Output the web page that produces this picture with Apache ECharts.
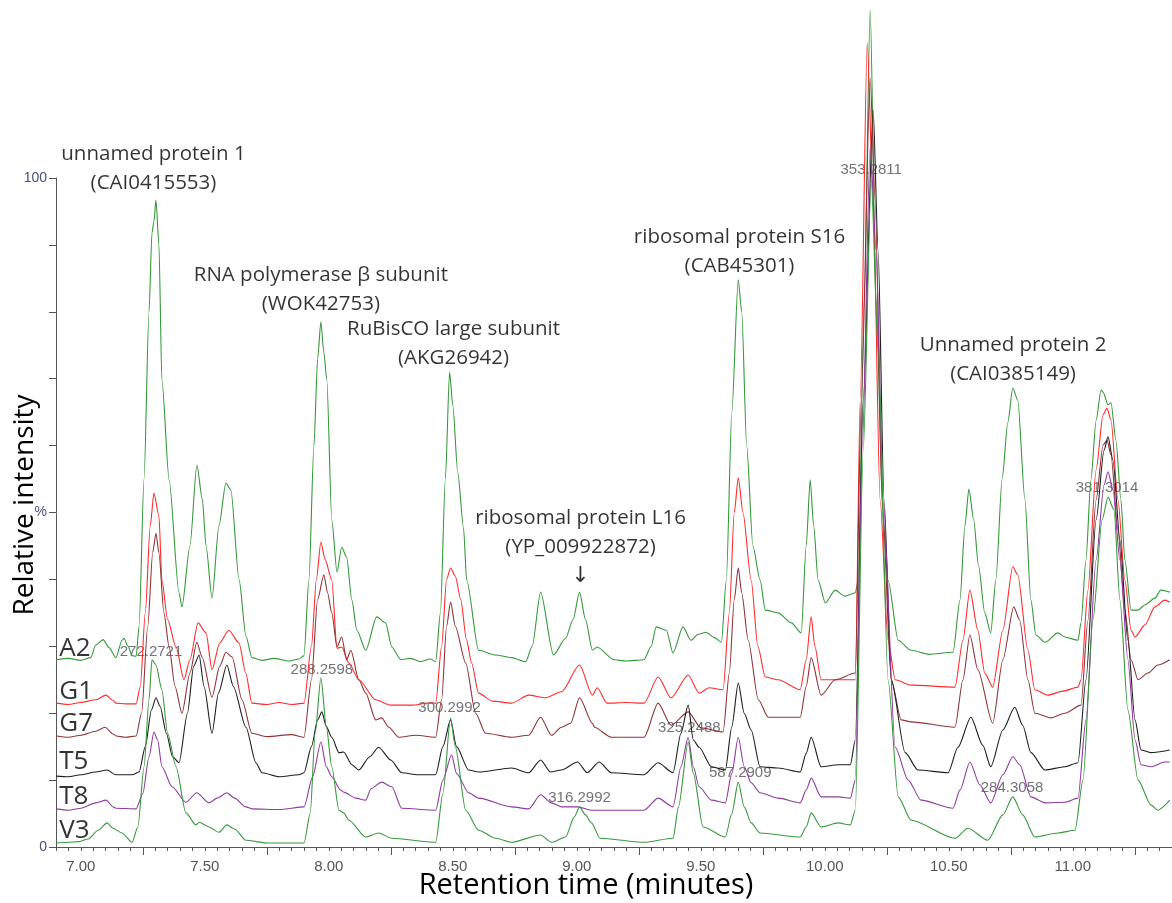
<!DOCTYPE html>
<html><head><meta charset="utf-8">
<script src="https://cdn.jsdelivr.net/npm/echarts@6/dist/echarts.min.js"></script>
<style>html,body{margin:0;padding:0;background:#fff}#c{width:1172px;height:903px}</style>
</head><body><div id="c"></div>
<script>
// ---- Data: [retention time (min), relative intensity (%)] ----
const a2Data = [[6.901,28.0],[6.95,28.2],[7.0,27.9],[7.04,28.3],[7.06,30.2],[7.09,31.0],[7.114,29.8],[7.142,28.3],[7.166,30.9],[7.174,31.2],[7.19,30.0],[7.207,28.6],[7.223,28.5],[7.235,33],[7.255,55],[7.275,80],[7.287,91.8],[7.295,93.5],[7.303,96.7],[7.315,90],[7.327,69.8],[7.356,54.9],[7.396,38.0],[7.408,35.9],[7.44,45],[7.468,57.1],[7.49,52],[7.505,45],[7.529,37.2],[7.557,48],[7.585,54.4],[7.605,53.4],[7.638,40],[7.666,31.5],[7.69,28.3],[7.73,27.9],[7.78,28.2],[7.84,27.8],[7.88,28.1],[7.90,28.6],[7.92,40],[7.94,60],[7.955,73],[7.968,78.5],[7.98,74],[7.992,69.8],[8.012,48.9],[8.033,41.1],[8.052,44.8],[8.072,43.3],[8.093,36.9],[8.113,32.4],[8.149,29.4],[8.193,34.4],[8.229,33.5],[8.254,29.9],[8.29,28.0],[8.33,28.2],[8.37,27.7],[8.41,28.1],[8.431,27.7],[8.45,35],[8.47,55],[8.487,71.0],[8.50,66],[8.52,56],[8.543,47.8],[8.556,39.9],[8.604,29.4],[8.673,28.7],[8.737,28.3],[8.794,27.7],[8.82,30],[8.854,38.1],[8.906,28.7],[8.955,31.2],[8.985,34],[9.011,38.1],[9.035,34],[9.063,29.4],[9.082,29.9],[9.15,28.0],[9.2,27.8],[9.271,28.0],[9.30,30],[9.32,32.9],[9.361,32.4],[9.388,29.0],[9.428,32.9],[9.46,30.9],[9.49,31.8],[9.521,32.1],[9.555,31.3],[9.583,30.6],[9.603,39.9],[9.625,65],[9.651,84.8],[9.665,80],[9.685,60],[9.71,45],[9.739,39.9],[9.76,35.4],[9.812,35.0],[9.865,33.5],[9.905,32.0],[9.925,45],[9.941,54.9],[9.955,48],[9.973,39.9],[10.002,36.5],[10.042,38.4],[10.08,37.5],[10.123,38.0],[10.135,39.9],[10.159,81.8],[10.183,125.1],[10.207,81.8],[10.235,48.9],[10.255,39.9],[10.296,30.9],[10.348,29.4],[10.42,28.8],[10.517,29.1],[10.545,36.9],[10.565,48],[10.581,53.5],[10.60,49],[10.62,42],[10.645,35],[10.669,32.0],[10.69,40],[10.715,55],[10.738,63.5],[10.758,68.6],[10.778,66.8],[10.807,51.9],[10.831,36.9],[10.851,31.7],[10.888,30.6],[10.94,32.0],[10.968,31.4],[11.021,30.9],[11.033,33.5],[11.053,42.9],[11.073,54.9],[11.094,63.8],[11.114,68.3],[11.122,68.0],[11.142,66.1],[11.154,66.4],[11.174,60.8],[11.194,51.9],[11.21,42.9],[11.235,35.4],[11.263,35.4],[11.291,36.2],[11.331,37.2],[11.355,38.4],[11.391,38.1]];

const g1Data = [[6.901,21.5],[6.95,21.3],[7.0,21.6],[7.06,22.0],[7.102,22.7],[7.13,21.9],[7.142,21.5],[7.18,21.4],[7.223,21.4],[7.24,24],[7.26,35],[7.28,48],[7.295,52.9],[7.315,49.5],[7.327,39.9],[7.35,34],[7.384,29.9],[7.416,25.0],[7.44,28],[7.473,33.5],[7.505,32.0],[7.529,26.5],[7.56,30.5],[7.597,32.4],[7.638,30.5],[7.665,26],[7.69,21.5],[7.75,21.3],[7.80,21.6],[7.85,21.3],[7.90,21.5],[7.93,30],[7.95,40],[7.968,45.6],[7.985,43],[8.012,39.9],[8.033,29.7],[8.052,29.9],[8.081,27.5],[8.121,25.0],[8.189,22.0],[8.25,21.2],[8.334,21.2],[8.40,21.5],[8.431,21.5],[8.455,30],[8.475,40],[8.491,41.7],[8.51,40.5],[8.532,37],[8.555,31],[8.576,27.5],[8.604,23.0],[8.66,21.8],[8.737,21.5],[8.806,22.7],[8.874,22.3],[8.938,23.2],[9.011,27.2],[9.063,22.7],[9.082,23.8],[9.122,21.5],[9.2,21.6],[9.271,21.5],[9.328,25.4],[9.38,22.3],[9.449,25.7],[9.493,23.0],[9.533,23.8],[9.59,23.5],[9.615,35],[9.635,50],[9.651,55.2],[9.67,50],[9.703,39.9],[9.73,30],[9.76,25.4],[9.812,25.0],[9.901,23.5],[9.925,28],[9.945,34.4],[9.96,30],[9.985,25.0],[10.054,25.0],[10.123,25.0],[10.143,66.8],[10.171,120.2],[10.195,96.7],[10.223,51.9],[10.255,30.9],[10.284,25.0],[10.348,24.2],[10.525,23.9],[10.557,30.9],[10.585,38.4],[10.617,32.4],[10.645,26],[10.677,23.9],[10.718,32.4],[10.758,41.9],[10.778,40.7],[10.819,29.4],[10.847,23.5],[10.9,22.7],[10.96,23.3],[11.021,23.9],[11.033,25.0],[11.061,38.4],[11.094,56.4],[11.122,64.6],[11.138,65.6],[11.154,63.8],[11.182,51.9],[11.21,39.9],[11.235,32.4],[11.251,31.4],[11.291,33.2],[11.331,35.9],[11.371,36.9],[11.391,36.6]];

const g7Data = [[6.901,16.6],[6.95,16.4],[7.0,16.7],[7.06,17.3],[7.098,17.9],[7.13,16.9],[7.142,16.6],[7.18,16.4],[7.223,16.6],[7.245,20],[7.27,33],[7.29,44],[7.303,46.9],[7.315,44],[7.335,35],[7.356,29.9],[7.38,24],[7.408,20.0],[7.44,26],[7.468,30.6],[7.489,28.4],[7.529,22.4],[7.56,27],[7.585,29.1],[7.61,28.4],[7.65,22],[7.69,17.0],[7.75,16.5],[7.85,16.8],[7.90,16.4],[7.93,25],[7.955,37],[7.98,40.7],[7.995,38],[8.012,35.0],[8.033,29.9],[8.052,31.4],[8.072,28.0],[8.089,29.4],[8.121,25.0],[8.149,23.0],[8.189,19.0],[8.213,19.3],[8.242,17.9],[8.282,16.4],[8.35,16.7],[8.431,16.4],[8.455,22],[8.475,33],[8.491,36.6],[8.51,33],[8.552,27.5],[8.592,20.0],[8.632,17.0],[8.737,16.4],[8.806,16.7],[8.854,19.4],[8.898,16.7],[8.938,17.9],[8.975,18.5],[9.011,22.3],[9.063,18.5],[9.071,17.9],[9.139,16.4],[9.271,16.4],[9.328,21.5],[9.38,18.2],[9.449,20.2],[9.501,17.8],[9.59,17.2],[9.615,26],[9.635,37],[9.651,41.7],[9.665,38],[9.691,30.9],[9.732,22.0],[9.772,19.4],[9.84,19.4],[9.901,19.4],[9.925,24],[9.945,28.3],[9.985,22.7],[10.042,25.0],[10.123,26.0],[10.147,66.8],[10.183,114.9],[10.203,96.7],[10.231,51.9],[10.268,25.0],[10.308,19.0],[10.348,18.7],[10.525,17.9],[10.557,25.0],[10.585,31.7],[10.617,26.5],[10.677,18.5],[10.718,28.0],[10.762,35.9],[10.786,33.9],[10.819,25.0],[10.847,20.0],[10.912,19.3],[10.968,20.0],[11.033,21.2],[11.061,33.9],[11.094,51.9],[11.122,60.1],[11.138,60.8],[11.154,58.6],[11.182,47.4],[11.21,35.4],[11.235,28.0],[11.263,25.0],[11.303,26.0],[11.343,27.2],[11.391,28.0]];

const t5Data = [[6.901,10.6],[6.95,10.5],[7.0,10.8],[7.06,11.2],[7.106,11.5],[7.14,10.8],[7.207,10.8],[7.235,11.2],[7.26,15],[7.285,20.5],[7.303,22.3],[7.32,21],[7.345,17],[7.37,13.5],[7.396,12.6],[7.43,20],[7.455,27],[7.477,28.7],[7.497,24],[7.529,17.0],[7.555,23],[7.589,27.2],[7.615,24],[7.666,17.9],[7.706,12.6],[7.731,11.1],[7.80,10.5],[7.88,10.8],[7.90,11.1],[7.93,15],[7.955,19],[7.972,20.2],[7.99,18],[8.012,16.4],[8.041,14.1],[8.06,14.2],[8.093,12.3],[8.121,11.5],[8.165,13.5],[8.201,14.9],[8.25,13.0],[8.294,11.1],[8.36,10.8],[8.431,10.8],[8.46,15],[8.491,19.0],[8.515,15],[8.564,11.5],[8.604,11.2],[8.737,11.8],[8.806,11.1],[8.854,13.0],[8.894,11.2],[8.938,11.5],[9.003,12.7],[9.042,11.1],[9.09,12.7],[9.139,11.1],[9.271,10.8],[9.328,12.6],[9.388,11.1],[9.42,17],[9.449,21.2],[9.47,16],[9.493,14.9],[9.543,12.0],[9.599,11.5],[9.625,18],[9.651,24.5],[9.675,20],[9.703,17.5],[9.739,12.0],[9.812,11.8],[9.901,11.2],[9.925,14],[9.945,16.4],[9.985,12.0],[10.054,12.3],[10.103,12.3],[10.123,16],[10.155,66.8],[10.195,110.2],[10.215,89.2],[10.239,51.9],[10.268,25.0],[10.324,14.1],[10.376,11.5],[10.497,11.1],[10.537,14.9],[10.589,19.4],[10.637,15.2],[10.669,12.0],[10.718,17.5],[10.766,20.9],[10.798,18.2],[10.831,14.1],[10.888,11.5],[10.968,12.0],[11.021,12.6],[11.053,25.0],[11.094,48.9],[11.126,59.3],[11.142,61.3],[11.162,57.8],[11.19,45.9],[11.222,30.9],[11.251,19.0],[11.275,14.5],[11.315,14.1],[11.391,14.5]];

const t8Data = [[6.901,5.7],[6.95,5.5],[7.0,5.8],[7.06,6.6],[7.102,7.0],[7.13,6.0],[7.142,5.8],[7.223,5.7],[7.25,8],[7.275,13.5],[7.295,17.2],[7.31,16],[7.327,12.0],[7.368,9.0],[7.424,6.7],[7.468,8.1],[7.517,6.6],[7.55,7.3],[7.589,8.1],[7.62,7.3],[7.666,6.0],[7.69,5.7],[7.8,5.6],[7.9,6.0],[7.935,10.5],[7.968,15.7],[7.99,12],[8.012,10.5],[8.048,8.5],[8.06,8.2],[8.109,7.3],[8.149,7.0],[8.17,8.7],[8.213,9.7],[8.254,9.0],[8.294,5.8],[8.431,5.5],[8.46,10],[8.495,13.8],[8.515,11],[8.564,8.1],[8.604,7.3],[8.737,6.0],[8.806,5.7],[8.854,7.8],[8.898,6.6],[8.938,6.0],[9.003,6.0],[9.059,5.5],[9.271,5.5],[9.328,7.3],[9.388,6.0],[9.42,12],[9.449,16.4],[9.47,12],[9.493,9.0],[9.543,7.0],[9.599,6.6],[9.625,11],[9.651,16.4],[9.675,12],[9.703,9.6],[9.739,8.1],[9.812,7.3],[9.901,6.6],[9.925,8.5],[9.945,10.3],[9.985,7.5],[10.054,7.5],[10.103,7.3],[10.123,10],[10.151,59.3],[10.183,104.6],[10.207,89.2],[10.235,51.9],[10.284,14.9],[10.336,10.0],[10.388,7.0],[10.517,5.8],[10.545,8.5],[10.585,12.7],[10.625,9.3],[10.669,6.6],[10.718,10.8],[10.758,13.5],[10.786,12.3],[10.831,7.5],[10.888,6.6],[10.968,6.7],[11.021,7.3],[11.053,19.0],[11.094,42.9],[11.126,54.1],[11.142,56.1],[11.162,53.4],[11.19,42.9],[11.222,28.0],[11.251,16.0],[11.275,12.3],[11.315,12.0],[11.371,12.7],[11.391,12.7]];

const v3Data = [[6.901,0.6],[6.95,0.7],[6.993,0.8],[7.03,1.2],[7.07,2.5],[7.106,3.6],[7.13,2.8],[7.166,2.1],[7.207,0.7],[7.23,3],[7.255,12],[7.275,22],[7.287,28.0],[7.303,27.2],[7.327,23.5],[7.35,17],[7.384,12.0],[7.424,5.1],[7.464,3.3],[7.477,3.7],[7.517,3.0],[7.557,2.2],[7.589,3.3],[7.62,2.7],[7.666,1.0],[7.75,0.6],[7.9,0.6],[7.925,5],[7.945,17],[7.968,25.3],[7.99,18],[8.012,12.0],[8.041,5.5],[8.06,5.1],[8.081,4.0],[8.149,1.5],[8.201,2.1],[8.254,1.3],[8.431,0.7],[8.46,8],[8.491,19.3],[8.51,15],[8.552,5.5],[8.604,2.5],[8.673,1.3],[8.737,0.7],[8.854,1.8],[8.898,0.7],[8.955,1.5],[8.99,4.5],[9.011,6.0],[9.035,4.8],[9.059,3.6],[9.094,1.3],[9.271,0.7],[9.388,1.3],[9.41,6],[9.449,15.7],[9.47,11],[9.509,3.0],[9.599,1.5],[9.625,5],[9.651,9.7],[9.675,6],[9.703,3.6],[9.739,2.1],[9.901,1.5],[9.925,3],[9.945,5.1],[9.985,3.0],[10.054,3.6],[10.103,3.3],[10.123,5.5],[10.155,59.3],[10.187,99.7],[10.215,74.3],[10.255,25.0],[10.296,7.5],[10.348,4.0],[10.525,1.3],[10.577,2.8],[10.657,1.0],[10.718,4.8],[10.758,7.5],[10.798,4.8],[10.847,1.5],[10.94,2.1],[11.009,2.5],[11.041,10],[11.081,33.9],[11.118,48.9],[11.142,52.3],[11.166,50.4],[11.19,36.9],[11.222,20.5],[11.263,10.0],[11.315,6.3],[11.343,5.5],[11.391,7.0]];

const traceNames = ['A2','G1','G7','T5','T8','V3'];
const traceLabelTime = 6.913;
const traceLabelValues = [29.7, 23.2, 18.5, 12.7, 7.6, 2.4];

const annotTexts = ['unnamed protein 1\n(CAI0415553)','RNA polymerase β subunit\n(WOK42753)','RuBisCO large subunit\n(AKG26942)','ribosomal protein L16\n(YP_009922872)\n{arr|↓}','ribosomal protein S16\n(CAB45301)','Unnamed protein 2\n(CAI0385149)'];
const annotTimes = [7.293, 7.968, 8.503, 9.015, 9.656, 10.759];
const annotValues = [101.4, 83.3, 75.3, 44.8, 89.0, 72.9];

const massTexts = ['272.2721','288.2598','300.2992','316.2992','325.2488','587.2909','353.2811','284.3058','381.3014'];
const massTimes = [7.283, 7.972, 8.487, 9.011, 9.454, 9.659, 10.187, 10.755, 11.138];
const massValues = [29.1, 26.5, 20.8, 7.3, 17.8, 11.1, 101.2, 8.8, 53.7];

const xLabelValues = [7.0, 7.5, 8.0, 8.5, 9.0, 9.5, 10.0, 10.5, 11.0];
const xLongTicks = [7.25, 7.75, 8.25, 8.75, 9.25, 9.75, 10.25, 10.75, 11.25];
const yLabelValues = [0, 50, 100];
const yLabelTexts = ['0', '%', '100'];

// ---- Styles ----
const traceData = [a2Data, g1Data, g7Data, t5Data, t8Data, v3Data];
const traceColors = ['#35993a', '#ff2b2b', '#8e3438', '#1e1e1e', '#8f3a9e', '#35993a'];
const shortTicks = [];
for (let i = 138; i <= 228; i++) shortTicks.push(Math.round(i * 5) / 100);

const axisColor = '#555';
const series = [];
series.push({
  type: 'scatter', name: 'masses', z: 1, clip: false, silent: true,
  symbolSize: 1, itemStyle: {color: 'transparent'},
  data: massTimes.map((t, i) => [t, massValues[i], massTexts[i]]),
  label: {show: true, position: 'inside', formatter: p => p.data[2],
    fontFamily: 'Liberation Sans, Arial, sans-serif', fontSize: 15, color: '#4f4f55'}
});
traceNames.forEach((n, i) => {
  series.push({
    type: 'line', name: n, data: traceData[i], z: 3, clip: false,
    showSymbol: false, symbol: 'none', smooth: 0.25, smoothMonotone: 'x',
    lineStyle: {width: 1.1, color: traceColors[i]}, itemStyle: {color: traceColors[i]}
  });
});
series.push({
  type: 'scatter', name: 'traceLabels', z: 5, clip: false, silent: true,
  symbolSize: 1, itemStyle: {color: 'transparent'},
  data: traceNames.map((n, i) => [traceLabelTime, traceLabelValues[i], n]),
  label: {show: true, position: 'inside', align: 'left', formatter: p => p.data[2],
    fontFamily: 'Open Sans, sans-serif', fontSize: 26, color: '#000'}
});
series.push({
  type: 'scatter', name: 'annotations', z: 5, clip: false, silent: true,
  symbolSize: 1, itemStyle: {color: 'transparent'},
  data: annotTimes.map((t, i) => [t, annotValues[i], annotTexts[i]]),
  label: {show: true, position: 'inside', align: 'center', formatter: p => p.data[2],
    fontFamily: 'Open Sans, sans-serif', fontSize: 20.5, lineHeight: 29, color: '#000',
    rich: {arr: {fontFamily: 'DejaVu Sans, sans-serif', fontSize: 22, lineHeight: 29, color: '#000'}}}
});

const option = {
  animation: false,
  backgroundColor: '#fff',
  grid: {left: 56, right: 0, top: 178, bottom: 56},
  xAxis: [{
    type: 'value', min: 6.9, max: 11.4, position: 'bottom',
    axisLine: {show: true, lineStyle: {color: axisColor, width: 1}},
    splitLine: {show: false},
    axisTick: {show: true, customValues: shortTicks, length: 4, lineStyle: {color: axisColor}},
    axisLabel: {customValues: xLabelValues, formatter: v => v.toFixed(2),
      fontFamily: 'Liberation Sans, Arial, sans-serif', fontSize: 15, color: '#555', margin: 12}
  }, {
    type: 'value', min: 6.9, max: 11.4, position: 'bottom', offset: 0,
    axisLine: {show: false}, splitLine: {show: false},
    axisTick: {show: true, customValues: xLongTicks, length: 8, lineStyle: {color: axisColor}},
    axisLabel: {show: false}
  }],
  yAxis: {
    type: 'value', min: 0, max: 100, interval: 10,
    axisLine: {show: true, lineStyle: {color: axisColor, width: 1}},
    splitLine: {show: false},
    axisTick: {show: true, length: 7, lineStyle: {color: axisColor}},
    axisLabel: {
      formatter: v => { const k = yLabelValues.indexOf(Math.round(v)); return k >= 0 ? yLabelTexts[k] : ''; },
      fontFamily: 'Liberation Sans, Arial, sans-serif', fontSize: 14, color: '#4a5078', margin: 9
    }
  },
  graphic: [
    {type: 'text', x: 25, y: 505, rotation: Math.PI / 2, z: 10,
      style: {text: 'Relative intensity', font: '28px "Open Sans", sans-serif', fill: '#000', align: 'center', verticalAlign: 'middle'}},
    {type: 'text', x: 586, y: 886, z: 10,
      style: {text: 'Retention time (minutes)', font: '29px "Open Sans", sans-serif', fill: '#000', align: 'center', verticalAlign: 'middle'}}
  ],
  series: series
};
const chart = echarts.init(document.getElementById('c'));
chart.setOption(option);
</script>
</body></html>
